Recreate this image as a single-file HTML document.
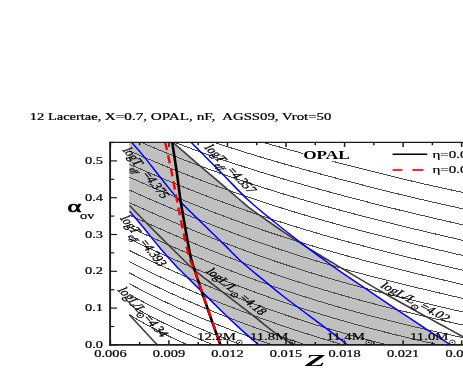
<!DOCTYPE html>
<html><head><meta charset="utf-8"><title>chart</title>
<style>
html,body{margin:0;padding:0;background:#fff;}
body{width:463px;height:392px;overflow:hidden;position:relative;font-family:"Liberation Serif",serif;}
</style></head><body>
<svg width="463" height="392" viewBox="0 0 463 392" style="position:absolute;left:0;top:0">
<defs><clipPath id="cp"><rect x="110.40" y="142.40" width="357.60" height="202.40"/></clipPath>
<clipPath id="cpz"><rect x="129.2" y="142.40" width="400" height="202.40"/></clipPath></defs>
<rect width="463" height="392" fill="#fff"/>
<g clip-path="url(#cp)">
<path d="M129.2 142.40 L172.70 142.20 C176.92 145.85 189.62 156.90 198.00 164.10 C206.38 171.30 216.08 179.50 223.00 185.40 C229.92 191.30 235.17 195.80 239.50 199.50 C243.83 203.20 244.52 204.18 249.00 207.60 C253.48 211.02 260.60 215.92 266.40 220.00 C272.20 224.08 278.58 228.55 283.80 232.10 C289.02 235.65 295.38 239.77 297.70 241.30 L303.00 244.30 C306.90 247.17 319.73 256.67 326.40 261.50 C333.07 266.33 333.57 266.82 343.00 273.30 C352.43 279.78 369.67 291.47 383.00 300.40 C396.33 309.33 411.60 319.42 423.00 326.90 C434.40 334.38 446.67 342.23 451.40 345.30 L258.60 344.90 C255.70 342.35 247.13 335.00 241.20 329.60 C235.27 324.20 232.70 321.93 223.00 312.50 C213.30 303.07 190.75 280.65 183.00 273.00 C175.25 265.35 180.33 270.77 176.50 266.60 C172.67 262.43 165.58 254.58 160.00 248.00 C154.42 241.42 148.08 233.22 143.00 227.10 C137.92 220.98 131.75 213.93 129.50 211.30 L129.2 211.3 Z" fill="#c0c0c0"/>
<g clip-path="url(#cpz)" fill="none" stroke="#4a4a4a" stroke-width="1" shape-rendering="crispEdges">
<path d="M193.30 120.54 C194.63 121.00 198.63 122.39 201.30 123.29 C203.97 124.19 206.63 125.08 209.30 125.96 C211.97 126.84 214.63 127.71 217.30 128.56 C219.97 129.42 222.63 130.26 225.30 131.10 C227.97 131.93 230.63 132.76 233.30 133.58 C235.97 134.39 238.63 135.20 241.30 136.00 C243.97 136.80 246.63 137.59 249.30 138.38 C251.97 139.16 254.63 139.94 257.30 140.71 C259.97 141.49 262.63 142.25 265.30 143.01 C267.97 143.77 270.63 144.52 273.30 145.27 C275.97 146.02 278.63 146.77 281.30 147.50 C283.97 148.24 286.63 148.98 289.30 149.71 C291.97 150.44 294.63 151.17 297.30 151.89 C299.97 152.61 302.63 153.33 305.30 154.05 C307.97 154.76 310.63 155.47 313.30 156.18 C315.97 156.89 318.63 157.60 321.30 158.30 C323.97 159.01 326.63 159.71 329.30 160.40 C331.97 161.10 334.63 161.80 337.30 162.49 C339.97 163.18 342.63 163.87 345.30 164.56 C347.97 165.25 350.63 165.93 353.30 166.61 C355.97 167.29 358.63 167.97 361.30 168.65 C363.97 169.33 366.63 170.00 369.30 170.67 C371.97 171.34 374.63 172.01 377.30 172.67 C379.97 173.34 382.63 174.00 385.30 174.66 C387.97 175.32 390.63 175.97 393.30 176.62 C395.97 177.27 398.63 177.92 401.30 178.56 C403.97 179.20 406.63 179.84 409.30 180.48 C411.97 181.11 414.63 181.74 417.30 182.36 C419.97 182.99 422.63 183.60 425.30 184.22 C427.97 184.83 430.63 185.43 433.30 186.03 C435.97 186.63 438.63 187.23 441.30 187.81 C443.97 188.40 446.63 188.97 449.30 189.54 C451.97 190.11 454.63 190.67 457.30 191.23 C459.97 191.78 463.97 192.58 465.30 192.85"/>
<path d="M161.30 122.92 C162.63 123.45 166.63 125.05 169.30 126.09 C171.97 127.13 174.63 128.15 177.30 129.17 C179.97 130.18 182.63 131.17 185.30 132.16 C187.97 133.14 190.63 134.11 193.30 135.07 C195.97 136.02 198.63 136.97 201.30 137.90 C203.97 138.84 206.63 139.76 209.30 140.67 C211.97 141.58 214.63 142.48 217.30 143.37 C219.97 144.26 222.63 145.13 225.30 146.00 C227.97 146.87 230.63 147.73 233.30 148.59 C235.97 149.44 238.63 150.28 241.30 151.11 C243.97 151.95 246.63 152.78 249.30 153.59 C251.97 154.41 254.63 155.22 257.30 156.03 C259.97 156.83 262.63 157.63 265.30 158.42 C267.97 159.21 270.63 160.00 273.30 160.77 C275.97 161.55 278.63 162.32 281.30 163.09 C283.97 163.86 286.63 164.62 289.30 165.37 C291.97 166.13 294.63 166.88 297.30 167.62 C299.97 168.37 302.63 169.11 305.30 169.85 C307.97 170.58 310.63 171.31 313.30 172.04 C315.97 172.77 318.63 173.49 321.30 174.21 C323.97 174.93 326.63 175.64 329.30 176.36 C331.97 177.07 334.63 177.77 337.30 178.48 C339.97 179.18 342.63 179.88 345.30 180.58 C347.97 181.27 350.63 181.97 353.30 182.66 C355.97 183.34 358.63 184.03 361.30 184.71 C363.97 185.39 366.63 186.07 369.30 186.75 C371.97 187.42 374.63 188.10 377.30 188.76 C379.97 189.43 382.63 190.10 385.30 190.76 C387.97 191.42 390.63 192.08 393.30 192.73 C395.97 193.38 398.63 194.03 401.30 194.68 C403.97 195.32 406.63 195.97 409.30 196.61 C411.97 197.24 414.63 197.88 417.30 198.51 C419.97 199.14 422.63 199.76 425.30 200.38 C427.97 201.00 430.63 201.62 433.30 202.23 C435.97 202.84 438.63 203.45 441.30 204.05 C443.97 204.65 446.63 205.24 449.30 205.83 C451.97 206.42 454.63 207.01 457.30 207.58 C459.97 208.16 463.97 209.01 465.30 209.30"/>
<path d="M129.30 123.32 C130.63 123.91 134.63 125.70 137.30 126.87 C139.97 128.04 142.63 129.19 145.30 130.33 C147.97 131.47 150.63 132.59 153.30 133.70 C155.97 134.81 158.63 135.91 161.30 136.99 C163.97 138.07 166.63 139.14 169.30 140.20 C171.97 141.25 174.63 142.30 177.30 143.33 C179.97 144.36 182.63 145.37 185.30 146.38 C187.97 147.39 190.63 148.38 193.30 149.36 C195.97 150.35 198.63 151.32 201.30 152.28 C203.97 153.24 206.63 154.19 209.30 155.13 C211.97 156.07 214.63 157.00 217.30 157.92 C219.97 158.84 222.63 159.75 225.30 160.65 C227.97 161.55 230.63 162.45 233.30 163.33 C235.97 164.21 238.63 165.09 241.30 165.95 C243.97 166.82 246.63 167.68 249.30 168.52 C251.97 169.37 254.63 170.22 257.30 171.05 C259.97 171.88 262.63 172.71 265.30 173.53 C267.97 174.35 270.63 175.16 273.30 175.96 C275.97 176.77 278.63 177.57 281.30 178.36 C283.97 179.15 286.63 179.93 289.30 180.71 C291.97 181.49 294.63 182.26 297.30 183.03 C299.97 183.80 302.63 184.56 305.30 185.31 C307.97 186.07 310.63 186.82 313.30 187.56 C315.97 188.30 318.63 189.04 321.30 189.78 C323.97 190.51 326.63 191.24 329.30 191.96 C331.97 192.69 334.63 193.40 337.30 194.12 C339.97 194.83 342.63 195.54 345.30 196.25 C347.97 196.95 350.63 197.65 353.30 198.35 C355.97 199.04 358.63 199.73 361.30 200.42 C363.97 201.11 366.63 201.79 369.30 202.47 C371.97 203.15 374.63 203.83 377.30 204.50 C379.97 205.17 382.63 205.84 385.30 206.50 C387.97 207.16 390.63 207.82 393.30 208.48 C395.97 209.14 398.63 209.79 401.30 210.44 C403.97 211.09 406.63 211.73 409.30 212.37 C411.97 213.02 414.63 213.65 417.30 214.29 C419.97 214.92 422.63 215.55 425.30 216.18 C427.97 216.81 430.63 217.43 433.30 218.05 C435.97 218.67 438.63 219.29 441.30 219.90 C443.97 220.51 446.63 221.12 449.30 221.73 C451.97 222.33 454.63 222.94 457.30 223.53 C459.97 224.13 463.97 225.02 465.30 225.32"/>
<path d="M129.30 137.17 C130.63 137.76 134.63 139.53 137.30 140.70 C139.97 141.86 142.63 143.01 145.30 144.15 C147.97 145.29 150.63 146.42 153.30 147.53 C155.97 148.65 158.63 149.75 161.30 150.84 C163.97 151.94 166.63 153.02 169.30 154.09 C171.97 155.16 174.63 156.22 177.30 157.27 C179.97 158.32 182.63 159.35 185.30 160.38 C187.97 161.41 190.63 162.43 193.30 163.43 C195.97 164.44 198.63 165.44 201.30 166.43 C203.97 167.41 206.63 168.39 209.30 169.36 C211.97 170.32 214.63 171.28 217.30 172.23 C219.97 173.18 222.63 174.12 225.30 175.05 C227.97 175.97 230.63 176.89 233.30 177.81 C235.97 178.72 238.63 179.62 241.30 180.51 C243.97 181.41 246.63 182.29 249.30 183.17 C251.97 184.05 254.63 184.92 257.30 185.78 C259.97 186.64 262.63 187.49 265.30 188.33 C267.97 189.18 270.63 190.01 273.30 190.84 C275.97 191.67 278.63 192.49 281.30 193.31 C283.97 194.12 286.63 194.93 289.30 195.73 C291.97 196.53 294.63 197.32 297.30 198.10 C299.97 198.89 302.63 199.67 305.30 200.44 C307.97 201.21 310.63 201.98 313.30 202.74 C315.97 203.50 318.63 204.25 321.30 205.00 C323.97 205.74 326.63 206.49 329.30 207.22 C331.97 207.96 334.63 208.68 337.30 209.41 C339.97 210.13 342.63 210.85 345.30 211.56 C347.97 212.28 350.63 212.98 353.30 213.69 C355.97 214.39 358.63 215.09 361.30 215.78 C363.97 216.47 366.63 217.16 369.30 217.84 C371.97 218.53 374.63 219.20 377.30 219.88 C379.97 220.55 382.63 221.22 385.30 221.89 C387.97 222.56 390.63 223.22 393.30 223.88 C395.97 224.53 398.63 225.19 401.30 225.84 C403.97 226.49 406.63 227.14 409.30 227.78 C411.97 228.43 414.63 229.07 417.30 229.70 C419.97 230.34 422.63 230.98 425.30 231.61 C427.97 232.24 430.63 232.87 433.30 233.50 C435.97 234.12 438.63 234.75 441.30 235.37 C443.97 235.99 446.63 236.61 449.30 237.23 C451.97 237.85 454.63 238.46 457.30 239.08 C459.97 239.69 463.97 240.61 465.30 240.91"/>
<path d="M129.30 150.78 C130.63 151.36 134.63 153.13 137.30 154.29 C139.97 155.45 142.63 156.60 145.30 157.74 C147.97 158.88 150.63 160.01 153.30 161.14 C155.97 162.26 158.63 163.37 161.30 164.48 C163.97 165.58 166.63 166.68 169.30 167.76 C171.97 168.85 174.63 169.93 177.30 170.99 C179.97 172.06 182.63 173.12 185.30 174.16 C187.97 175.21 190.63 176.25 193.30 177.28 C195.97 178.31 198.63 179.33 201.30 180.34 C203.97 181.35 206.63 182.35 209.30 183.34 C211.97 184.33 214.63 185.31 217.30 186.29 C219.97 187.26 222.63 188.22 225.30 189.18 C227.97 190.13 230.63 191.08 233.30 192.02 C235.97 192.95 238.63 193.88 241.30 194.80 C243.97 195.72 246.63 196.63 249.30 197.53 C251.97 198.43 254.63 199.33 257.30 200.21 C259.97 201.09 262.63 201.97 265.30 202.84 C267.97 203.70 270.63 204.56 273.30 205.41 C275.97 206.26 278.63 207.11 281.30 207.94 C283.97 208.77 286.63 209.60 289.30 210.42 C291.97 211.24 294.63 212.05 297.30 212.85 C299.97 213.65 302.63 214.45 305.30 215.24 C307.97 216.02 310.63 216.80 313.30 217.58 C315.97 218.35 318.63 219.12 321.30 219.88 C323.97 220.63 326.63 221.39 329.30 222.13 C331.97 222.88 334.63 223.62 337.30 224.35 C339.97 225.08 342.63 225.81 345.30 226.53 C347.97 227.25 350.63 227.96 353.30 228.67 C355.97 229.38 358.63 230.08 361.30 230.78 C363.97 231.48 366.63 232.17 369.30 232.86 C371.97 233.55 374.63 234.23 377.30 234.90 C379.97 235.58 382.63 236.25 385.30 236.92 C387.97 237.59 390.63 238.25 393.30 238.91 C395.97 239.57 398.63 240.23 401.30 240.88 C403.97 241.54 406.63 242.18 409.30 242.83 C411.97 243.48 414.63 244.12 417.30 244.76 C419.97 245.40 422.63 246.04 425.30 246.67 C427.97 247.31 430.63 247.94 433.30 248.57 C435.97 249.20 438.63 249.83 441.30 250.46 C443.97 251.09 446.63 251.71 449.30 252.34 C451.97 252.96 454.63 253.59 457.30 254.21 C459.97 254.84 463.97 255.77 465.30 256.08"/>
<path d="M129.30 164.13 C130.63 164.71 134.63 166.47 137.30 167.64 C139.97 168.80 142.63 169.95 145.30 171.10 C147.97 172.25 150.63 173.39 153.30 174.52 C155.97 175.65 158.63 176.78 161.30 177.90 C163.97 179.01 166.63 180.12 169.30 181.22 C171.97 182.32 174.63 183.41 177.30 184.50 C179.97 185.58 182.63 186.66 185.30 187.72 C187.97 188.79 190.63 189.85 193.30 190.89 C195.97 191.94 198.63 192.98 201.30 194.02 C203.97 195.05 206.63 196.07 209.30 197.08 C211.97 198.10 214.63 199.10 217.30 200.10 C219.97 201.09 222.63 202.08 225.30 203.06 C227.97 204.03 230.63 205.00 233.30 205.96 C235.97 206.92 238.63 207.87 241.30 208.81 C243.97 209.75 246.63 210.68 249.30 211.61 C251.97 212.53 254.63 213.44 257.30 214.35 C259.97 215.25 262.63 216.15 265.30 217.04 C267.97 217.92 270.63 218.80 273.30 219.67 C275.97 220.54 278.63 221.40 281.30 222.25 C283.97 223.11 286.63 223.95 289.30 224.79 C291.97 225.62 294.63 226.45 297.30 227.26 C299.97 228.08 302.63 228.89 305.30 229.69 C307.97 230.50 310.63 231.29 313.30 232.08 C315.97 232.86 318.63 233.64 321.30 234.41 C323.97 235.18 326.63 235.94 329.30 236.70 C331.97 237.45 334.63 238.20 337.30 238.94 C339.97 239.68 342.63 240.42 345.30 241.15 C347.97 241.87 350.63 242.59 353.30 243.31 C355.97 244.02 358.63 244.73 361.30 245.43 C363.97 246.13 366.63 246.83 369.30 247.52 C371.97 248.21 374.63 248.90 377.30 249.58 C379.97 250.26 382.63 250.93 385.30 251.60 C387.97 252.27 390.63 252.94 393.30 253.60 C395.97 254.26 398.63 254.92 401.30 255.57 C403.97 256.22 406.63 256.87 409.30 257.52 C411.97 258.17 414.63 258.81 417.30 259.45 C419.97 260.09 422.63 260.73 425.30 261.36 C427.97 262.00 430.63 262.63 433.30 263.27 C435.97 263.90 438.63 264.53 441.30 265.16 C443.97 265.79 446.63 266.42 449.30 267.05 C451.97 267.68 454.63 268.31 457.30 268.94 C459.97 269.57 463.97 270.52 465.30 270.83"/>
<path d="M129.30 177.22 C130.63 177.81 134.63 179.58 137.30 180.75 C139.97 181.91 142.63 183.08 145.30 184.23 C147.97 185.39 150.63 186.54 153.30 187.68 C155.97 188.83 158.63 189.97 161.30 191.09 C163.97 192.22 166.63 193.35 169.30 194.46 C171.97 195.58 174.63 196.68 177.30 197.78 C179.97 198.88 182.63 199.97 185.30 201.06 C187.97 202.14 190.63 203.22 193.30 204.28 C195.97 205.35 198.63 206.41 201.30 207.46 C203.97 208.51 206.63 209.55 209.30 210.59 C211.97 211.62 214.63 212.64 217.30 213.66 C219.97 214.67 222.63 215.68 225.30 216.67 C227.97 217.67 230.63 218.66 233.30 219.64 C235.97 220.62 238.63 221.59 241.30 222.55 C243.97 223.51 246.63 224.46 249.30 225.40 C251.97 226.34 254.63 227.27 257.30 228.20 C259.97 229.12 262.63 230.03 265.30 230.94 C267.97 231.84 270.63 232.74 273.30 233.62 C275.97 234.51 278.63 235.38 281.30 236.25 C283.97 237.12 286.63 237.98 289.30 238.83 C291.97 239.68 294.63 240.52 297.30 241.35 C299.97 242.18 302.63 243.00 305.30 243.82 C307.97 244.63 310.63 245.44 313.30 246.23 C315.97 247.03 318.63 247.82 321.30 248.60 C323.97 249.38 326.63 250.15 329.30 250.92 C331.97 251.68 334.63 252.44 337.30 253.19 C339.97 253.93 342.63 254.68 345.30 255.41 C347.97 256.14 350.63 256.87 353.30 257.59 C355.97 258.31 358.63 259.02 361.30 259.73 C363.97 260.44 366.63 261.14 369.30 261.83 C371.97 262.52 374.63 263.21 377.30 263.89 C379.97 264.58 382.63 265.25 385.30 265.92 C387.97 266.60 390.63 267.26 393.30 267.92 C395.97 268.59 398.63 269.24 401.30 269.90 C403.97 270.55 406.63 271.20 409.30 271.85 C411.97 272.49 414.63 273.14 417.30 273.78 C419.97 274.42 422.63 275.05 425.30 275.69 C427.97 276.33 430.63 276.96 433.30 277.59 C435.97 278.22 438.63 278.85 441.30 279.48 C443.97 280.11 446.63 280.74 449.30 281.37 C451.97 282.00 454.63 282.63 457.30 283.26 C459.97 283.89 463.97 284.84 465.30 285.16"/>
<path d="M129.30 190.06 C130.63 190.66 134.63 192.44 137.30 193.62 C139.97 194.80 142.63 195.97 145.30 197.14 C147.97 198.31 150.63 199.47 153.30 200.63 C155.97 201.78 158.63 202.93 161.30 204.08 C163.97 205.22 166.63 206.36 169.30 207.48 C171.97 208.61 174.63 209.74 177.30 210.85 C179.97 211.97 182.63 213.07 185.30 214.17 C187.97 215.27 190.63 216.36 193.30 217.45 C195.97 218.53 198.63 219.61 201.30 220.67 C203.97 221.74 206.63 222.80 209.30 223.85 C211.97 224.90 214.63 225.94 217.30 226.97 C219.97 228.00 222.63 229.02 225.30 230.04 C227.97 231.05 230.63 232.05 233.30 233.05 C235.97 234.04 238.63 235.03 241.30 236.01 C243.97 236.98 246.63 237.95 249.30 238.91 C251.97 239.86 254.63 240.81 257.30 241.75 C259.97 242.69 262.63 243.61 265.30 244.53 C267.97 245.45 270.63 246.36 273.30 247.26 C275.97 248.16 278.63 249.05 281.30 249.93 C283.97 250.81 286.63 251.68 289.30 252.55 C291.97 253.41 294.63 254.26 297.30 255.10 C299.97 255.95 302.63 256.78 305.30 257.61 C307.97 258.43 310.63 259.25 313.30 260.05 C315.97 260.86 318.63 261.66 321.30 262.45 C323.97 263.24 326.63 264.02 329.30 264.79 C331.97 265.56 334.63 266.32 337.30 267.08 C339.97 267.84 342.63 268.58 345.30 269.32 C347.97 270.06 350.63 270.80 353.30 271.52 C355.97 272.25 358.63 272.96 361.30 273.67 C363.97 274.38 366.63 275.09 369.30 275.78 C371.97 276.48 374.63 277.17 377.30 277.86 C379.97 278.54 382.63 279.22 385.30 279.89 C387.97 280.56 390.63 281.23 393.30 281.89 C395.97 282.56 398.63 283.21 401.30 283.87 C403.97 284.52 406.63 285.17 409.30 285.82 C411.97 286.46 414.63 287.10 417.30 287.74 C419.97 288.38 422.63 289.01 425.30 289.65 C427.97 290.28 430.63 290.91 433.30 291.54 C435.97 292.17 438.63 292.79 441.30 293.42 C443.97 294.05 446.63 294.67 449.30 295.30 C451.97 295.92 454.63 296.55 457.30 297.17 C459.97 297.80 463.97 298.74 465.30 299.06"/>
<path d="M129.30 202.65 C130.63 203.25 134.63 205.05 137.30 206.25 C139.97 207.44 142.63 208.63 145.30 209.81 C147.97 211.00 150.63 212.17 153.30 213.34 C155.97 214.51 158.63 215.68 161.30 216.84 C163.97 218.00 166.63 219.15 169.30 220.29 C171.97 221.43 174.63 222.57 177.30 223.70 C179.97 224.83 182.63 225.95 185.30 227.07 C187.97 228.18 190.63 229.29 193.30 230.38 C195.97 231.48 198.63 232.57 201.30 233.65 C203.97 234.73 206.63 235.80 209.30 236.87 C211.97 237.93 214.63 238.99 217.30 240.03 C219.97 241.08 222.63 242.11 225.30 243.14 C227.97 244.17 230.63 245.18 233.30 246.19 C235.97 247.20 238.63 248.20 241.30 249.19 C243.97 250.18 246.63 251.16 249.30 252.13 C251.97 253.10 254.63 254.06 257.30 255.01 C259.97 255.96 262.63 256.90 265.30 257.83 C267.97 258.76 270.63 259.68 273.30 260.59 C275.97 261.50 278.63 262.40 281.30 263.30 C283.97 264.19 286.63 265.07 289.30 265.94 C291.97 266.81 294.63 267.67 297.30 268.53 C299.97 269.38 302.63 270.22 305.30 271.06 C307.97 271.89 310.63 272.72 313.30 273.53 C315.97 274.35 318.63 275.15 321.30 275.95 C323.97 276.75 326.63 277.53 329.30 278.31 C331.97 279.09 334.63 279.86 337.30 280.63 C339.97 281.39 342.63 282.14 345.30 282.89 C347.97 283.63 350.63 284.37 353.30 285.10 C355.97 285.83 358.63 286.55 361.30 287.26 C363.97 287.98 366.63 288.68 369.30 289.38 C371.97 290.08 374.63 290.78 377.30 291.46 C379.97 292.15 382.63 292.83 385.30 293.50 C387.97 294.18 390.63 294.85 393.30 295.51 C395.97 296.17 398.63 296.83 401.30 297.48 C403.97 298.13 406.63 298.78 409.30 299.42 C411.97 300.07 414.63 300.70 417.30 301.34 C419.97 301.98 422.63 302.61 425.30 303.24 C427.97 303.86 430.63 304.49 433.30 305.11 C435.97 305.74 438.63 306.36 441.30 306.98 C443.97 307.60 446.63 308.21 449.30 308.83 C451.97 309.45 454.63 310.06 457.30 310.68 C459.97 311.30 463.97 312.22 465.30 312.53"/>
<path d="M129.30 214.99 C130.63 215.60 134.63 217.43 137.30 218.64 C139.97 219.85 142.63 221.06 145.30 222.26 C147.97 223.46 150.63 224.65 153.30 225.84 C155.97 227.03 158.63 228.21 161.30 229.38 C163.97 230.55 166.63 231.72 169.30 232.88 C171.97 234.04 174.63 235.19 177.30 236.33 C179.97 237.48 182.63 238.61 185.30 239.74 C187.97 240.86 190.63 241.98 193.30 243.09 C195.97 244.20 198.63 245.30 201.30 246.40 C203.97 247.49 206.63 248.57 209.30 249.65 C211.97 250.72 214.63 251.79 217.30 252.85 C219.97 253.90 222.63 254.95 225.30 255.99 C227.97 257.02 230.63 258.05 233.30 259.07 C235.97 260.09 238.63 261.10 241.30 262.10 C243.97 263.10 246.63 264.08 249.30 265.06 C251.97 266.04 254.63 267.01 257.30 267.97 C259.97 268.93 262.63 269.88 265.30 270.82 C267.97 271.76 270.63 272.69 273.30 273.61 C275.97 274.53 278.63 275.44 281.30 276.34 C283.97 277.24 286.63 278.13 289.30 279.01 C291.97 279.89 294.63 280.76 297.30 281.62 C299.97 282.48 302.63 283.33 305.30 284.17 C307.97 285.02 310.63 285.85 313.30 286.67 C315.97 287.49 318.63 288.31 321.30 289.11 C323.97 289.91 326.63 290.71 329.30 291.49 C331.97 292.28 334.63 293.05 337.30 293.82 C339.97 294.59 342.63 295.35 345.30 296.10 C347.97 296.85 350.63 297.59 353.30 298.32 C355.97 299.06 358.63 299.78 361.30 300.50 C363.97 301.22 366.63 301.93 369.30 302.63 C371.97 303.33 374.63 304.03 377.30 304.72 C379.97 305.41 382.63 306.09 385.30 306.76 C387.97 307.44 390.63 308.11 393.30 308.77 C395.97 309.43 398.63 310.09 401.30 310.74 C403.97 311.39 406.63 312.03 409.30 312.67 C411.97 313.31 414.63 313.95 417.30 314.58 C419.97 315.21 422.63 315.83 425.30 316.46 C427.97 317.08 430.63 317.70 433.30 318.31 C435.97 318.93 438.63 319.54 441.30 320.15 C443.97 320.76 446.63 321.36 449.30 321.97 C451.97 322.58 454.63 323.18 457.30 323.78 C459.97 324.38 463.97 325.28 465.30 325.59"/>
<path d="M129.30 227.07 C130.63 227.69 134.63 229.56 137.30 230.79 C139.97 232.03 142.63 233.26 145.30 234.48 C147.97 235.70 150.63 236.91 153.30 238.11 C155.97 239.32 158.63 240.52 161.30 241.71 C163.97 242.90 166.63 244.08 169.30 245.25 C171.97 246.42 174.63 247.59 177.30 248.74 C179.97 249.90 182.63 251.05 185.30 252.19 C187.97 253.33 190.63 254.46 193.30 255.58 C195.97 256.70 198.63 257.81 201.30 258.91 C203.97 260.01 206.63 261.11 209.30 262.19 C211.97 263.27 214.63 264.35 217.30 265.41 C219.97 266.48 222.63 267.53 225.30 268.58 C227.97 269.62 230.63 270.66 233.30 271.68 C235.97 272.71 238.63 273.72 241.30 274.73 C243.97 275.73 246.63 276.73 249.30 277.72 C251.97 278.70 254.63 279.68 257.30 280.64 C259.97 281.61 262.63 282.57 265.30 283.51 C267.97 284.46 270.63 285.39 273.30 286.32 C275.97 287.25 278.63 288.16 281.30 289.07 C283.97 289.97 286.63 290.87 289.30 291.76 C291.97 292.64 294.63 293.52 297.30 294.39 C299.97 295.25 302.63 296.11 305.30 296.96 C307.97 297.80 310.63 298.64 313.30 299.47 C315.97 300.30 318.63 301.12 321.30 301.92 C323.97 302.73 326.63 303.53 329.30 304.32 C331.97 305.11 334.63 305.90 337.30 306.67 C339.97 307.44 342.63 308.20 345.30 308.96 C347.97 309.71 350.63 310.46 353.30 311.20 C355.97 311.94 358.63 312.66 361.30 313.39 C363.97 314.11 366.63 314.82 369.30 315.53 C371.97 316.23 374.63 316.93 377.30 317.62 C379.97 318.31 382.63 318.99 385.30 319.67 C387.97 320.34 390.63 321.01 393.30 321.67 C395.97 322.33 398.63 322.99 401.30 323.63 C403.97 324.28 406.63 324.92 409.30 325.56 C411.97 326.20 414.63 326.83 417.30 327.45 C419.97 328.07 422.63 328.69 425.30 329.31 C427.97 329.92 430.63 330.53 433.30 331.14 C435.97 331.74 438.63 332.34 441.30 332.94 C443.97 333.53 446.63 334.13 449.30 334.72 C451.97 335.30 454.63 335.89 457.30 336.47 C459.97 337.06 463.97 337.92 465.30 338.21"/>
<path d="M129.30 238.90 C130.63 239.53 134.63 241.45 137.30 242.71 C139.97 243.97 142.63 245.22 145.30 246.46 C147.97 247.71 150.63 248.94 153.30 250.17 C155.97 251.39 158.63 252.61 161.30 253.81 C163.97 255.02 166.63 256.22 169.30 257.41 C171.97 258.59 174.63 259.77 177.30 260.94 C179.97 262.11 182.63 263.27 185.30 264.41 C187.97 265.56 190.63 266.70 193.30 267.83 C195.97 268.96 198.63 270.08 201.30 271.19 C203.97 272.30 206.63 273.40 209.30 274.49 C211.97 275.58 214.63 276.66 217.30 277.73 C219.97 278.80 222.63 279.86 225.30 280.91 C227.97 281.96 230.63 283.00 233.30 284.03 C235.97 285.06 238.63 286.08 241.30 287.09 C243.97 288.09 246.63 289.09 249.30 290.08 C251.97 291.07 254.63 292.05 257.30 293.02 C259.97 293.99 262.63 294.95 265.30 295.90 C267.97 296.85 270.63 297.79 273.30 298.72 C275.97 299.65 278.63 300.57 281.30 301.48 C283.97 302.39 286.63 303.29 289.30 304.18 C291.97 305.07 294.63 305.95 297.30 306.82 C299.97 307.69 302.63 308.55 305.30 309.40 C307.97 310.25 310.63 311.09 313.30 311.93 C315.97 312.76 318.63 313.58 321.30 314.40 C323.97 315.21 326.63 316.01 329.30 316.81 C331.97 317.60 334.63 318.39 337.30 319.17 C339.97 319.94 342.63 320.71 345.30 321.47 C347.97 322.23 350.63 322.98 353.30 323.72 C355.97 324.46 358.63 325.19 361.30 325.92 C363.97 326.64 366.63 327.36 369.30 328.07 C371.97 328.77 374.63 329.47 377.30 330.16 C379.97 330.85 382.63 331.54 385.30 332.21 C387.97 332.89 390.63 333.56 393.30 334.22 C395.97 334.88 398.63 335.53 401.30 336.17 C403.97 336.82 406.63 337.46 409.30 338.09 C411.97 338.72 414.63 339.34 417.30 339.96 C419.97 340.58 422.63 341.19 425.30 341.79 C427.97 342.40 430.63 342.99 433.30 343.59 C435.97 344.18 438.63 344.76 441.30 345.34 C443.97 345.92 446.63 346.50 449.30 347.07 C451.97 347.64 454.63 348.20 457.30 348.76 C459.97 349.32 463.97 350.14 465.30 350.42"/>
<path d="M129.30 250.47 C130.63 251.12 134.63 253.09 137.30 254.38 C139.97 255.67 142.63 256.96 145.30 258.22 C147.97 259.49 150.63 260.75 153.30 262.00 C155.97 263.24 158.63 264.48 161.30 265.70 C163.97 266.93 166.63 268.14 169.30 269.34 C171.97 270.54 174.63 271.73 177.30 272.91 C179.97 274.09 182.63 275.26 185.30 276.42 C187.97 277.58 190.63 278.72 193.30 279.86 C195.97 281.00 198.63 282.12 201.30 283.24 C203.97 284.35 206.63 285.45 209.30 286.55 C211.97 287.64 214.63 288.72 217.30 289.80 C219.97 290.87 222.63 291.93 225.30 292.98 C227.97 294.03 230.63 295.07 233.30 296.10 C235.97 297.14 238.63 298.16 241.30 299.17 C243.97 300.18 246.63 301.18 249.30 302.17 C251.97 303.16 254.63 304.14 257.30 305.11 C259.97 306.08 262.63 307.04 265.30 307.99 C267.97 308.94 270.63 309.88 273.30 310.81 C275.97 311.74 278.63 312.66 281.30 313.57 C283.97 314.48 286.63 315.38 289.30 316.28 C291.97 317.17 294.63 318.05 297.30 318.92 C299.97 319.80 302.63 320.66 305.30 321.51 C307.97 322.37 310.63 323.21 313.30 324.05 C315.97 324.88 318.63 325.71 321.30 326.52 C323.97 327.34 326.63 328.15 329.30 328.95 C331.97 329.75 334.63 330.53 337.30 331.31 C339.97 332.09 342.63 332.87 345.30 333.63 C347.97 334.39 350.63 335.14 353.30 335.89 C355.97 336.63 358.63 337.37 361.30 338.10 C363.97 338.82 366.63 339.54 369.30 340.25 C371.97 340.96 374.63 341.66 377.30 342.35 C379.97 343.05 382.63 343.73 385.30 344.40 C387.97 345.08 390.63 345.75 393.30 346.41 C395.97 347.06 398.63 347.71 401.30 348.36 C403.97 349.00 406.63 349.63 409.30 350.26 C411.97 350.88 414.63 351.50 417.30 352.11 C419.97 352.71 422.63 353.32 425.30 353.91 C427.97 354.50 430.63 355.08 433.30 355.66 C435.97 356.24 438.63 356.81 441.30 357.37 C443.97 357.93 446.63 358.48 449.30 359.02 C451.97 359.57 454.63 360.11 457.30 360.64 C459.97 361.16 463.97 361.94 465.30 362.20"/>
<path d="M129.30 261.79 C130.63 262.46 134.63 264.49 137.30 265.82 C139.97 267.15 142.63 268.46 145.30 269.76 C147.97 271.05 150.63 272.34 153.30 273.61 C155.97 274.88 158.63 276.13 161.30 277.37 C163.97 278.62 166.63 279.85 169.30 281.06 C171.97 282.28 174.63 283.48 177.30 284.67 C179.97 285.86 182.63 287.04 185.30 288.20 C187.97 289.37 190.63 290.52 193.30 291.66 C195.97 292.80 198.63 293.93 201.30 295.05 C203.97 296.17 206.63 297.27 209.30 298.37 C211.97 299.46 214.63 300.54 217.30 301.61 C219.97 302.69 222.63 303.75 225.30 304.80 C227.97 305.85 230.63 306.89 233.30 307.92 C235.97 308.94 238.63 309.96 241.30 310.97 C243.97 311.98 246.63 312.98 249.30 313.96 C251.97 314.95 254.63 315.93 257.30 316.90 C259.97 317.87 262.63 318.82 265.30 319.77 C267.97 320.72 270.63 321.66 273.30 322.59 C275.97 323.52 278.63 324.44 281.30 325.35 C283.97 326.26 286.63 327.16 289.30 328.05 C291.97 328.94 294.63 329.82 297.30 330.70 C299.97 331.57 302.63 332.43 305.30 333.29 C307.97 334.14 310.63 334.99 313.30 335.82 C315.97 336.66 318.63 337.49 321.30 338.31 C323.97 339.13 326.63 339.94 329.30 340.74 C331.97 341.54 334.63 342.33 337.30 343.11 C339.97 343.90 342.63 344.67 345.30 345.44 C347.97 346.20 350.63 346.96 353.30 347.71 C355.97 348.45 358.63 349.19 361.30 349.92 C363.97 350.65 366.63 351.37 369.30 352.08 C371.97 352.79 374.63 353.50 377.30 354.19 C379.97 354.88 382.63 355.57 385.30 356.24 C387.97 356.92 390.63 357.58 393.30 358.24 C395.97 358.90 398.63 359.54 401.30 360.18 C403.97 360.82 406.63 361.44 409.30 362.06 C411.97 362.68 414.63 363.29 417.30 363.89 C419.97 364.49 422.63 365.08 425.30 365.66 C427.97 366.23 430.63 366.80 433.30 367.36 C435.97 367.92 439.97 368.73 441.30 369.01"/>
<path d="M129.30 272.86 C130.63 273.55 134.63 275.65 137.30 277.01 C139.97 278.38 142.63 279.73 145.30 281.06 C147.97 282.39 150.63 283.70 153.30 284.99 C155.97 286.29 158.63 287.57 161.30 288.83 C163.97 290.09 166.63 291.33 169.30 292.56 C171.97 293.79 174.63 295.01 177.30 296.21 C179.97 297.41 182.63 298.59 185.30 299.77 C187.97 300.94 190.63 302.09 193.30 303.24 C195.97 304.38 198.63 305.51 201.30 306.63 C203.97 307.75 206.63 308.85 209.30 309.94 C211.97 311.04 214.63 312.12 217.30 313.19 C219.97 314.25 222.63 315.31 225.30 316.36 C227.97 317.40 230.63 318.44 233.30 319.46 C235.97 320.48 238.63 321.50 241.30 322.50 C243.97 323.50 246.63 324.50 249.30 325.48 C251.97 326.46 254.63 327.43 257.30 328.39 C259.97 329.36 262.63 330.31 265.30 331.25 C267.97 332.20 270.63 333.13 273.30 334.06 C275.97 334.98 278.63 335.90 281.30 336.80 C283.97 337.71 286.63 338.61 289.30 339.50 C291.97 340.39 294.63 341.27 297.30 342.14 C299.97 343.01 302.63 343.87 305.30 344.73 C307.97 345.58 310.63 346.43 313.30 347.26 C315.97 348.10 318.63 348.93 321.30 349.75 C323.97 350.57 326.63 351.38 329.30 352.18 C331.97 352.99 334.63 353.78 337.30 354.56 C339.97 355.35 342.63 356.13 345.30 356.89 C347.97 357.66 350.63 358.42 353.30 359.17 C355.97 359.92 358.63 360.66 361.30 361.39 C363.97 362.13 366.63 362.85 369.30 363.56 C371.97 364.27 374.63 364.98 377.30 365.67 C379.97 366.37 382.63 367.05 385.30 367.72 C387.97 368.40 391.97 369.38 393.30 369.72"/>
<path d="M129.30 283.67 C130.63 284.39 134.63 286.56 137.30 287.97 C139.97 289.38 142.63 290.77 145.30 292.13 C147.97 293.49 150.63 294.84 153.30 296.16 C155.97 297.48 158.63 298.78 161.30 300.06 C163.97 301.34 166.63 302.61 169.30 303.85 C171.97 305.09 174.63 306.32 177.30 307.53 C179.97 308.74 182.63 309.93 185.30 311.11 C187.97 312.28 190.63 313.44 193.30 314.59 C195.97 315.73 198.63 316.86 201.30 317.98 C203.97 319.09 206.63 320.19 209.30 321.28 C211.97 322.37 214.63 323.44 217.30 324.51 C219.97 325.57 222.63 326.62 225.30 327.66 C227.97 328.70 230.63 329.72 233.30 330.74 C235.97 331.76 238.63 332.76 241.30 333.75 C243.97 334.75 246.63 335.73 249.30 336.71 C251.97 337.68 254.63 338.64 257.30 339.60 C259.97 340.55 262.63 341.50 265.30 342.43 C267.97 343.37 270.63 344.30 273.30 345.22 C275.97 346.13 278.63 347.04 281.30 347.94 C283.97 348.85 286.63 349.74 289.30 350.62 C291.97 351.51 294.63 352.38 297.30 353.25 C299.97 354.12 302.63 354.98 305.30 355.83 C307.97 356.68 310.63 357.53 313.30 358.36 C315.97 359.20 318.63 360.03 321.30 360.85 C323.97 361.67 326.63 362.48 329.30 363.28 C331.97 364.08 334.63 364.88 337.30 365.67 C339.97 366.45 343.97 367.61 345.30 368.00"/>
<path d="M129.30 294.23 C130.63 294.97 134.63 297.23 137.30 298.69 C139.97 300.15 142.63 301.57 145.30 302.97 C147.97 304.38 150.63 305.75 153.30 307.10 C155.97 308.45 158.63 309.78 161.30 311.08 C163.97 312.38 166.63 313.66 169.30 314.92 C171.97 316.18 174.63 317.41 177.30 318.63 C179.97 319.85 182.63 321.04 185.30 322.22 C187.97 323.40 190.63 324.56 193.30 325.71 C195.97 326.85 198.63 327.98 201.30 329.09 C203.97 330.20 206.63 331.30 209.30 332.38 C211.97 333.46 214.63 334.53 217.30 335.58 C219.97 336.63 222.63 337.67 225.30 338.70 C227.97 339.73 230.63 340.75 233.30 341.75 C235.97 342.76 238.63 343.75 241.30 344.73 C243.97 345.72 246.63 346.69 249.30 347.65 C251.97 348.61 254.63 349.56 257.30 350.51 C259.97 351.45 262.63 352.39 265.30 353.31 C267.97 354.24 270.63 355.16 273.30 356.06 C275.97 356.97 278.63 357.87 281.30 358.77 C283.97 359.66 286.63 360.55 289.30 361.42 C291.97 362.30 294.63 363.17 297.30 364.03 C299.97 364.90 302.63 365.75 305.30 366.60 C307.97 367.45 311.97 368.70 313.30 369.12"/>
<path d="M129.30 304.54 C130.63 305.31 134.63 307.66 137.30 309.17 C139.97 310.68 142.63 312.15 145.30 313.59 C147.97 315.03 150.63 316.44 153.30 317.82 C155.97 319.20 158.63 320.55 161.30 321.88 C163.97 323.20 166.63 324.50 169.30 325.77 C171.97 327.04 174.63 328.29 177.30 329.51 C179.97 330.74 182.63 331.94 185.30 333.12 C187.97 334.30 190.63 335.46 193.30 336.60 C195.97 337.74 198.63 338.86 201.30 339.97 C203.97 341.07 206.63 342.16 209.30 343.23 C211.97 344.31 214.63 345.36 217.30 346.40 C219.97 347.45 222.63 348.47 225.30 349.49 C227.97 350.50 230.63 351.51 233.30 352.50 C235.97 353.49 238.63 354.47 241.30 355.43 C243.97 356.40 246.63 357.36 249.30 358.31 C251.97 359.26 254.63 360.20 257.30 361.13 C259.97 362.05 262.63 362.98 265.30 363.89 C267.97 364.80 270.63 365.71 273.30 366.60 C275.97 367.50 279.97 368.83 281.30 369.27"/>
<path d="M129.30 314.59 C130.63 315.39 134.63 317.84 137.30 319.41 C139.97 320.97 142.63 322.49 145.30 323.98 C147.97 325.46 150.63 326.91 153.30 328.32 C155.97 329.73 158.63 331.11 161.30 332.46 C163.97 333.80 166.63 335.12 169.30 336.40 C171.97 337.69 174.63 338.95 177.30 340.18 C179.97 341.41 182.63 342.61 185.30 343.79 C187.97 344.98 190.63 346.13 193.30 347.27 C195.97 348.41 198.63 349.52 201.30 350.62 C203.97 351.71 206.63 352.79 209.30 353.85 C211.97 354.91 214.63 355.95 217.30 356.98 C219.97 358.01 222.63 359.02 225.30 360.02 C227.97 361.02 230.63 362.00 233.30 362.98 C235.97 363.95 238.63 364.91 241.30 365.86 C243.97 366.81 247.97 368.21 249.30 368.68"/>
</g>
<g fill="none" stroke="#3c3c3c" stroke-width="1.6">
<path d="M172.70 142.20 C176.92 145.85 189.62 156.90 198.00 164.10 C206.38 171.30 216.08 179.50 223.00 185.40 C229.92 191.30 235.17 195.80 239.50 199.50 C243.83 203.20 244.52 204.18 249.00 207.60 C253.48 211.02 260.60 215.92 266.40 220.00 C272.20 224.08 278.58 228.55 283.80 232.10 C289.02 235.65 291.67 237.43 297.70 241.30 C303.73 245.17 312.45 250.68 320.00 255.30 C327.55 259.92 332.50 262.80 343.00 269.00 C353.50 275.20 369.67 284.85 383.00 292.50 C396.33 300.15 413.00 309.35 423.00 314.90 C433.00 320.45 436.33 322.17 443.00 325.80 C449.67 329.43 459.67 334.88 463.00 336.70"/>
<path d="M129.50 205.50 C131.75 207.83 136.75 213.17 143.00 219.50 C149.25 225.83 158.90 235.50 167.00 243.50 C175.10 251.50 185.10 261.55 191.60 267.50 C198.10 273.45 201.20 275.40 206.00 279.20 C210.80 283.00 215.07 286.18 220.40 290.30 C225.73 294.42 232.23 299.45 238.00 303.90 C243.77 308.35 248.67 312.05 255.00 317.00 C261.33 321.95 269.33 328.87 276.00 333.60 C282.67 338.33 291.83 343.43 295.00 345.40"/>
<path d="M129.30 314.80 C133.93 319.78 152.47 339.72 157.10 344.70"/>
</g>
<g fill="none" stroke="#0000ff" stroke-width="1.5">
<path d="M131.70 142.40 C133.58 144.57 137.68 148.88 143.00 155.40 C148.32 161.92 157.10 173.52 163.60 181.50 C170.10 189.48 172.10 192.98 182.00 203.30 C191.90 213.62 213.13 233.70 223.00 243.40 C232.87 253.10 234.53 255.47 241.20 261.50 C247.87 267.53 256.03 273.85 263.00 279.60 C269.97 285.35 272.30 287.73 283.00 296.00 C293.70 304.27 316.33 320.97 327.20 329.20 C338.07 337.43 344.70 342.70 348.20 345.40"/>
<path d="M191.00 142.20 C196.33 147.58 213.47 164.87 223.00 174.50 C232.53 184.13 239.53 192.00 248.20 200.00 C256.87 208.00 265.87 215.12 275.00 222.50 C284.13 229.88 294.43 237.80 303.00 244.30 C311.57 250.80 319.73 256.67 326.40 261.50 C333.07 266.33 333.57 266.82 343.00 273.30 C352.43 279.78 369.67 291.47 383.00 300.40 C396.33 309.33 411.60 319.42 423.00 326.90 C434.40 334.38 446.67 342.23 451.40 345.30"/>
<path d="M129.50 211.30 C131.75 213.93 137.92 220.98 143.00 227.10 C148.08 233.22 154.42 241.42 160.00 248.00 C165.58 254.58 172.67 262.43 176.50 266.60 C180.33 270.77 175.25 265.35 183.00 273.00 C190.75 280.65 213.30 303.07 223.00 312.50 C232.70 321.93 235.27 324.20 241.20 329.60 C247.13 335.00 255.70 342.35 258.60 344.90"/>
</g>
<path d="M172.20 142.20 C172.93 147.00 175.22 161.37 176.60 171.00 C177.98 180.63 179.12 190.83 180.50 200.00 C181.88 209.17 183.38 217.33 184.90 226.00 C186.42 234.67 188.42 246.00 189.60 252.00 C190.78 258.00 191.10 258.83 192.00 262.00 C192.90 265.17 193.17 265.47 195.00 271.00 C196.83 276.53 199.67 285.38 203.00 295.20 C206.33 305.02 212.08 321.60 215.00 329.90 C217.92 338.20 219.58 342.48 220.50 345.00" fill="none" stroke="#000" stroke-width="2.6"/>
<path d="M165.20 142.20 C166.23 147.00 169.45 161.37 171.40 171.00 C173.35 180.63 175.42 192.27 176.90 200.00 C178.38 207.73 179.00 211.03 180.30 217.40 C181.60 223.77 183.20 231.52 184.70 238.20 C186.20 244.88 187.98 252.95 189.30 257.50 C190.62 262.05 191.65 263.20 192.60 265.50 C193.55 267.80 193.23 266.35 195.00 271.30 C196.77 276.25 199.82 285.43 203.20 295.20 C206.58 304.97 212.35 321.60 215.30 329.90 C218.25 338.20 219.97 342.48 220.90 345.00" fill="none" stroke="#ff0000" stroke-width="2.4" stroke-dasharray="8.3 5"/>
</g>
<rect x="303.3" y="146" width="48" height="15.2" fill="#fff"/>
<line x1="392.6" y1="154.35" x2="427.3" y2="154.35" stroke="#000" stroke-width="1.5"/>
<line x1="392.6" y1="170" x2="402.4" y2="170" stroke="#ff0000" stroke-width="1.7"/>
<line x1="412.4" y1="170" x2="423.5" y2="170" stroke="#ff0000" stroke-width="1.7"/>
<g stroke="#1c1c1c" fill="none">
<line x1="110.10" y1="141.70" x2="110.10" y2="345.80" stroke-width="1.9"/>
<line x1="110.40" y1="142.40" x2="463" y2="142.40" stroke-width="1.4"/>
<line x1="109.20" y1="344.90" x2="463" y2="344.90" stroke-width="1.9"/>
<line x1="110.40" y1="344.80" x2="110.40" y2="340.30" stroke-width="1.5"/>
<line x1="110.40" y1="142.40" x2="110.40" y2="146.90" stroke-width="1.5"/>
<line x1="139.67" y1="344.80" x2="139.67" y2="342.00" stroke-width="1.5"/>
<line x1="139.67" y1="142.40" x2="139.67" y2="145.20" stroke-width="1.5"/>
<line x1="168.94" y1="344.80" x2="168.94" y2="340.30" stroke-width="1.5"/>
<line x1="168.94" y1="142.40" x2="168.94" y2="146.90" stroke-width="1.5"/>
<line x1="198.21" y1="344.80" x2="198.21" y2="342.00" stroke-width="1.5"/>
<line x1="198.21" y1="142.40" x2="198.21" y2="145.20" stroke-width="1.5"/>
<line x1="227.48" y1="344.80" x2="227.48" y2="340.30" stroke-width="1.5"/>
<line x1="227.48" y1="142.40" x2="227.48" y2="146.90" stroke-width="1.5"/>
<line x1="256.75" y1="344.80" x2="256.75" y2="342.00" stroke-width="1.5"/>
<line x1="256.75" y1="142.40" x2="256.75" y2="145.20" stroke-width="1.5"/>
<line x1="286.02" y1="344.80" x2="286.02" y2="340.30" stroke-width="1.5"/>
<line x1="286.02" y1="142.40" x2="286.02" y2="146.90" stroke-width="1.5"/>
<line x1="315.29" y1="344.80" x2="315.29" y2="342.00" stroke-width="1.5"/>
<line x1="315.29" y1="142.40" x2="315.29" y2="145.20" stroke-width="1.5"/>
<line x1="344.56" y1="344.80" x2="344.56" y2="340.30" stroke-width="1.5"/>
<line x1="344.56" y1="142.40" x2="344.56" y2="146.90" stroke-width="1.5"/>
<line x1="373.83" y1="344.80" x2="373.83" y2="342.00" stroke-width="1.5"/>
<line x1="373.83" y1="142.40" x2="373.83" y2="145.20" stroke-width="1.5"/>
<line x1="403.10" y1="344.80" x2="403.10" y2="340.30" stroke-width="1.5"/>
<line x1="403.10" y1="142.40" x2="403.10" y2="146.90" stroke-width="1.5"/>
<line x1="432.37" y1="344.80" x2="432.37" y2="342.00" stroke-width="1.5"/>
<line x1="432.37" y1="142.40" x2="432.37" y2="145.20" stroke-width="1.5"/>
<line x1="461.64" y1="344.80" x2="461.64" y2="340.30" stroke-width="1.5"/>
<line x1="461.64" y1="142.40" x2="461.64" y2="146.90" stroke-width="1.5"/>
<line x1="110.10" y1="344.90" x2="117.00" y2="344.90" stroke-width="1.2"/>
<line x1="110.10" y1="326.50" x2="114.30" y2="326.50" stroke-width="1.2"/>
<line x1="110.10" y1="308.10" x2="117.00" y2="308.10" stroke-width="1.2"/>
<line x1="110.10" y1="289.70" x2="114.30" y2="289.70" stroke-width="1.2"/>
<line x1="110.10" y1="271.30" x2="117.00" y2="271.30" stroke-width="1.2"/>
<line x1="110.10" y1="252.90" x2="114.30" y2="252.90" stroke-width="1.2"/>
<line x1="110.10" y1="234.50" x2="117.00" y2="234.50" stroke-width="1.2"/>
<line x1="110.10" y1="216.10" x2="114.30" y2="216.10" stroke-width="1.2"/>
<line x1="110.10" y1="197.70" x2="117.00" y2="197.70" stroke-width="1.2"/>
<line x1="110.10" y1="179.30" x2="114.30" y2="179.30" stroke-width="1.2"/>
<line x1="110.10" y1="160.90" x2="117.00" y2="160.90" stroke-width="1.2"/>
<line x1="110.10" y1="142.50" x2="114.30" y2="142.50" stroke-width="1.2"/>
</g>
<g font-family="'Liberation Serif', serif" fill="#000" opacity="0.999">
<text x="29.8" y="119.6" font-size="9.4" textLength="71.5" lengthAdjust="spacingAndGlyphs" stroke="#000" stroke-width="0.2">12 Lacertae,</text>
<text x="104.8" y="119.6" font-size="9.4" textLength="110.5" lengthAdjust="spacingAndGlyphs" stroke="#000" stroke-width="0.2">X=0.7, OPAL, nF,</text>
<text x="222.3" y="119.6" font-size="9.4" textLength="109.0" lengthAdjust="spacingAndGlyphs" stroke="#000" stroke-width="0.2">AGSS09, Vrot=50</text>
<text transform="translate(110.40 357.40) scale(1.500 1) rotate(0.00)" font-size="9.60" text-anchor="middle" font-weight="normal" font-style="normal" stroke="#000" stroke-width="0.2">0.006</text>
<text transform="translate(168.94 357.40) scale(1.500 1) rotate(0.00)" font-size="9.60" text-anchor="middle" font-weight="normal" font-style="normal" stroke="#000" stroke-width="0.2">0.009</text>
<text transform="translate(227.48 357.40) scale(1.500 1) rotate(0.00)" font-size="9.60" text-anchor="middle" font-weight="normal" font-style="normal" stroke="#000" stroke-width="0.2">0.012</text>
<text transform="translate(286.02 357.40) scale(1.500 1) rotate(0.00)" font-size="9.60" text-anchor="middle" font-weight="normal" font-style="normal" stroke="#000" stroke-width="0.2">0.015</text>
<text transform="translate(344.56 357.40) scale(1.500 1) rotate(0.00)" font-size="9.60" text-anchor="middle" font-weight="normal" font-style="normal" stroke="#000" stroke-width="0.2">0.018</text>
<text transform="translate(403.10 357.40) scale(1.500 1) rotate(0.00)" font-size="9.60" text-anchor="middle" font-weight="normal" font-style="normal" stroke="#000" stroke-width="0.2">0.021</text>
<text transform="translate(461.64 357.40) scale(1.500 1) rotate(0.00)" font-size="9.60" text-anchor="middle" font-weight="normal" font-style="normal" stroke="#000" stroke-width="0.2">0.024</text>
<text transform="translate(103.00 347.90) scale(1.500 1) rotate(0.00)" font-size="9.60" text-anchor="end" font-weight="normal" font-style="normal" stroke="#000" stroke-width="0.2">0.0</text>
<text transform="translate(103.00 311.10) scale(1.500 1) rotate(0.00)" font-size="9.60" text-anchor="end" font-weight="normal" font-style="normal" stroke="#000" stroke-width="0.2">0.1</text>
<text transform="translate(103.00 274.30) scale(1.500 1) rotate(0.00)" font-size="9.60" text-anchor="end" font-weight="normal" font-style="normal" stroke="#000" stroke-width="0.2">0.2</text>
<text transform="translate(103.00 237.50) scale(1.500 1) rotate(0.00)" font-size="9.60" text-anchor="end" font-weight="normal" font-style="normal" stroke="#000" stroke-width="0.2">0.3</text>
<text transform="translate(103.00 200.70) scale(1.500 1) rotate(0.00)" font-size="9.60" text-anchor="end" font-weight="normal" font-style="normal" stroke="#000" stroke-width="0.2">0.4</text>
<text transform="translate(103.00 163.90) scale(1.500 1) rotate(0.00)" font-size="9.60" text-anchor="end" font-weight="normal" font-style="normal" stroke="#000" stroke-width="0.2">0.5</text>
<text transform="translate(305.30 365.80) scale(1.950 1) rotate(0.00)" font-size="17.00" text-anchor="start" font-weight="bold" font-style="italic" >Z</text>
<text transform="translate(67.50 212.40) scale(1.500 1) rotate(0.00)" font-size="17.60" text-anchor="start" font-weight="normal" font-style="normal" stroke="#000" stroke-width="0.7">α</text>
<text transform="translate(80.00 218.50) scale(1.500 1) rotate(0.00)" font-size="9.60" text-anchor="start" font-weight="normal" font-style="normal" stroke="#000" stroke-width="0.2">ov</text>
<text transform="translate(303.20 159.00) scale(1.500 1) rotate(0.00)" font-size="11.50" text-anchor="start" font-weight="bold" font-style="normal" >OPAL</text>
<text transform="translate(432.50 158.00) scale(1.500 1) rotate(0.00)" font-size="10.00" text-anchor="start" font-weight="normal" font-style="normal" stroke="#000" stroke-width="0.2">η=0.00</text>
<text transform="translate(432.50 173.40) scale(1.500 1) rotate(0.00)" font-size="10.00" text-anchor="start" font-weight="normal" font-style="normal" stroke="#000" stroke-width="0.2">η=0.05</text>
<text transform="translate(197.00 340.40) scale(1.420 1) rotate(0.00)" font-size="10.40" text-anchor="start" font-weight="normal" font-style="normal" stroke="#000" stroke-width="0.2">12.2M</text><ellipse cx="239.37" cy="342.40" rx="2.9" ry="2.3" fill="none" stroke="#000" stroke-width="0.75"/><ellipse cx="239.37" cy="342.40" rx="0.9" ry="0.7" fill="#000"/>
<text transform="translate(249.90 340.40) scale(1.420 1) rotate(0.00)" font-size="10.40" text-anchor="start" font-weight="normal" font-style="normal" stroke="#000" stroke-width="0.2">11.8M</text><ellipse cx="292.27" cy="342.40" rx="2.9" ry="2.3" fill="none" stroke="#000" stroke-width="0.75"/><ellipse cx="292.27" cy="342.40" rx="0.9" ry="0.7" fill="#000"/>
<text transform="translate(326.40 340.40) scale(1.420 1) rotate(0.00)" font-size="10.40" text-anchor="start" font-weight="normal" font-style="normal" stroke="#000" stroke-width="0.2">11.4M</text><ellipse cx="368.77" cy="342.40" rx="2.9" ry="2.3" fill="none" stroke="#000" stroke-width="0.75"/><ellipse cx="368.77" cy="342.40" rx="0.9" ry="0.7" fill="#000"/>
<text transform="translate(410.00 340.40) scale(1.420 1) rotate(0.00)" font-size="10.40" text-anchor="start" font-weight="normal" font-style="normal" stroke="#000" stroke-width="0.2">11.0M</text><ellipse cx="452.37" cy="342.40" rx="2.9" ry="2.3" fill="none" stroke="#000" stroke-width="0.75"/><ellipse cx="452.37" cy="342.40" rx="0.9" ry="0.7" fill="#000"/>
<text transform="translate(122.20 149.90) scale(1.500 1) rotate(61.64)" font-size="10.00" text-anchor="start" font-weight="normal" font-style="normal" stroke="#000" stroke-width="0.25">logT<tspan font-size="6.2" dy="5.0" dx="0.0" font-style="italic">eff</tspan><tspan dy="-5.0" dx="2.4">=4.375</tspan></text>
<text transform="translate(204.00 147.60) scale(1.500 1) rotate(56.77)" font-size="10.00" text-anchor="start" font-weight="normal" font-style="normal" stroke="#000" stroke-width="0.25">log<tspan font-style="italic">T</tspan><tspan font-size="6.8" dy="3.8" dx="0.0" font-style="italic">eff</tspan><tspan dy="-3.8" dx="1.9">=4.357</tspan></text>
<text transform="translate(119.80 218.30) scale(1.500 1) rotate(61.64)" font-size="10.00" text-anchor="start" font-weight="normal" font-style="normal" stroke="#000" stroke-width="0.25">log<tspan font-style="italic">T</tspan><tspan font-size="6.8" dy="3.8" dx="0.0" font-style="italic">eff</tspan><tspan dy="-3.8" dx="1.9">=4.393</tspan></text>
<text transform="translate(117.30 290.00) scale(1.500 1) rotate(58.58)" font-size="10.00" text-anchor="start" font-weight="normal" font-style="normal" stroke="#000" stroke-width="0.25">logL/L<tspan font-size="7.2" dy="2.8" dx="-1.0">⊙</tspan><tspan dy="-2.8" dx="-0.4">=4.34</tspan></text>
<text transform="translate(205.50 271.70) scale(1.500 1) rotate(50.03)" font-size="9.85" text-anchor="start" font-weight="normal" font-style="normal" stroke="#000" stroke-width="0.25">logL/L<tspan font-size="7.1" dy="2.8" dx="0.0">⊙</tspan><tspan dy="-2.8" dx="0.8">=4.18</tspan></text>
<text transform="translate(379.70 286.80) scale(1.500 1) rotate(38.57)" font-size="10.00" text-anchor="start" font-weight="normal" font-style="normal" stroke="#000" stroke-width="0.25">logL/L<tspan font-size="7.2" dy="3.6" dx="-0.3">⊙</tspan><tspan dy="-3.6" dx="-0.7">=4.02</tspan></text>
</g>
</svg>
</body></html>
